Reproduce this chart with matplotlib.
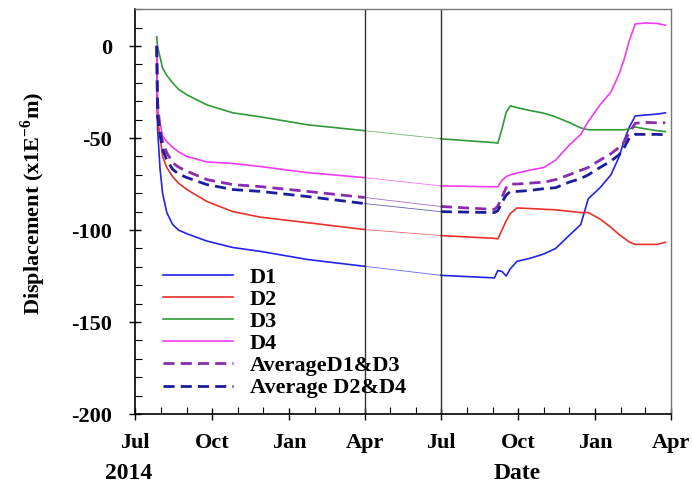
import matplotlib
matplotlib.use("Agg")
import matplotlib.pyplot as plt
import matplotlib.dates as mdates
import pandas as pd

dates = pd.to_datetime([
    "2014-07-27", "2014-07-28", "2014-07-31", "2014-08-03", "2014-08-08",
    "2014-08-15", "2014-08-22", "2014-09-01", "2014-09-25", "2014-10-26",
    "2014-11-28", "2015-01-23", "2015-04-01",
    "2015-07-01", "2015-09-03", "2015-09-07", "2015-09-12", "2015-09-17",
    "2015-09-22", "2015-09-30", "2015-10-15", "2015-11-01", "2015-11-15",
    "2015-12-01", "2015-12-15", "2015-12-24", "2016-01-07", "2016-01-20",
    "2016-01-30", "2016-02-05", "2016-02-11", "2016-02-18", "2016-03-01",
    "2016-03-15", "2016-03-25",
])

d1 = [0, -45, -67, -80, -90.5, -97, -100, -102, -106, -109.5, -111.6, -116,
      -119.7, -124.6, -126, -122, -122.5, -125, -121, -117, -115.4, -113, -110,
      -103, -97, -83, -77, -70, -60, -51, -44, -38, -37.5, -37, -36.3]
d2 = [0, -40, -49, -60, -66, -71, -74.5, -78, -84.5, -90, -93, -96,
      -99.7, -103, -104.5, -104.8, -100, -95, -91, -88, -88.3, -88.7, -89,
      -89.8, -90.5, -90.5, -94, -98.5, -102.5, -104.5, -106.5, -107.8, -107.8,
      -107.8, -106.7]
d3 = [5, -0.5, -6, -12, -16, -20, -23.5, -26.5, -32, -36.3, -38.5, -42.8,
      -46, -50.4, -52.5, -52.8, -45, -36, -32.5, -33.5, -35, -36.5, -38.5,
      -41.5, -44.5, -45.5, -45.5, -45.5, -45.5, -45.5, -45, -44, -45,
      -46, -46.5]
d4 = [0, -34.7, -41.7, -49, -52, -55, -57.5, -60, -63, -63.8, -65.5, -68.8,
      -71.5, -76, -76.5, -76.5, -73, -71, -70, -69, -67.5, -66, -62,
      -54, -48, -41, -32, -25, -15, -7, 3, 12, 12.5, 12.3, 11.3]
avg13 = [0, -30, -46, -52, -58, -63.4, -65.8, -68, -72.6, -75.3, -76.4, -79,
         -82.3, -87.2, -88.8, -87, -82, -77, -75, -75, -74.5, -74, -72.6,
         -70, -67.5, -66, -62, -58.5, -55, -52, -47, -42, -41.5, -41.7, -41.7]
avg24 = [0, -38, -48, -56, -62, -67, -69.5, -71.5, -75.3, -78, -79, -81.8,
         -85.6, -90, -90.5, -89.5, -85, -81, -79, -79, -78.5, -77.5, -77,
         -74, -72, -70, -66, -62.5, -59, -55, -50, -48, -48, -48, -48.2]

labels = ["D1", "D2", "D3", "D4", "AverageD1&D3", "Average D2&D4"]
colors = ["#2323e6", "#e8302c", "#2e9a35", "#f03cf0", "#8a2bb0", "#1c1c9c"]
series = [d1, d2, d3, d4, avg13, avg24]

plt.rcParams["font.family"] = ["Liberation Serif", "DejaVu Serif"]
plt.rcParams["font.weight"] = "bold"
plt.rcParams["axes.unicode_minus"] = False
plt.rcParams["mathtext.fontset"] = "custom"
plt.rcParams["mathtext.rm"] = "Liberation Serif:bold"
plt.rcParams["mathtext.bf"] = "Liberation Serif:bold"

fig = plt.figure(figsize=(6.92, 4.86), dpi=100)
ax = fig.add_axes([0.195, 0.148, 0.775, 0.833])

gap = 12  # last index before the data gap (Apr-Jul 2015)
for y, c, lab in zip(series, colors, labels):
    dashed = lab.startswith("Average")
    kw = dict(color=c, lw=2.0 if dashed else 1.2)
    if dashed:
        kw["dashes"] = (4, 2.2)
    ax.plot(dates[:gap + 1], y[:gap + 1], label=lab, **kw)
    ax.plot(dates[gap:gap + 2], y[gap:gap + 2], color=c, lw=0.6, alpha=0.7)
    ax.plot(dates[gap + 1:], y[gap + 1:], **kw)

for v in ["2015-04-01", "2015-07-01"]:
    ax.axvline(pd.Timestamp(v), color="#333333", lw=1.0)

ax.set_xlim(pd.Timestamp("2014-07-01"), pd.Timestamp("2016-04-01"))
ax.set_ylim(-200, 20)
ax.set_yticks([0, -50, -100, -150, -200])
ax.set_yticks(range(-200, 21, 10), minor=True)
ax.xaxis.set_major_locator(mdates.MonthLocator(bymonth=[1, 4, 7, 10]))
ax.xaxis.set_minor_locator(mdates.MonthLocator())
ax.xaxis.set_major_formatter(mdates.DateFormatter("%b"))

ax.tick_params(which="major", direction="inout", length=9, width=1.0,
               labelsize=16)
ax.tick_params(axis="x", which="major", pad=9)
ax.tick_params(axis="y", which="major", pad=12)
ax.tick_params(which="minor", direction="in", length=5, width=0.8)

for s in ["left", "bottom"]:
    ax.spines[s].set_color("black")
    ax.spines[s].set_linewidth(1.2)
for s in ["top", "right"]:
    ax.spines[s].set_color("#777777")
    ax.spines[s].set_linewidth(1.0)

ax.set_ylabel("Displacement (x1E$^{-6}$m)", fontsize=16, fontweight="bold")
ax.yaxis.set_label_coords(-0.162, 0.52)
ax.text(-0.011, -0.148, "2014", transform=ax.transAxes, fontsize=17,
        fontweight="bold", ha="center", va="center")
ax.text(0.713, -0.148, "Date", transform=ax.transAxes, fontsize=17,
        fontweight="bold", ha="center", va="center")

leg = ax.legend(loc="lower left", bbox_to_anchor=(0.035, 0.017), frameon=False,
                borderaxespad=0, handlelength=3.15, labelspacing=0.07,
                handletextpad=0.77, prop={"weight": "bold", "size": 16})

fig.savefig("out.png", dpi=100)
